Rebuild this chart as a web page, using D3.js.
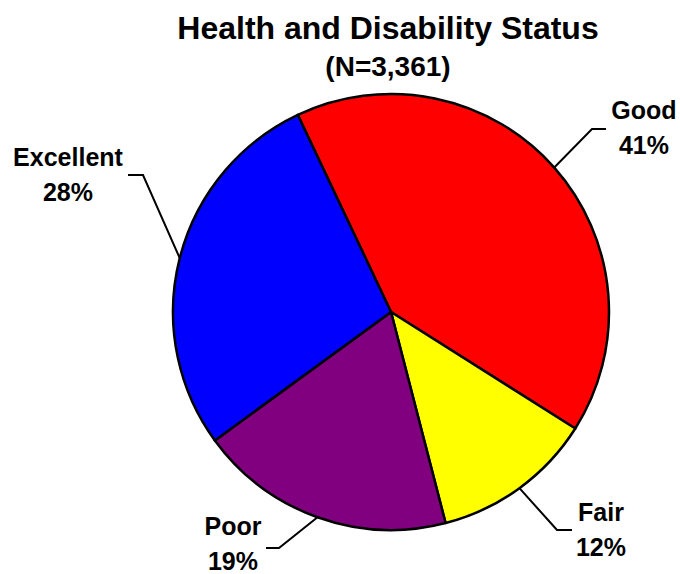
<!DOCTYPE html>
<html>
<head>
<meta charset="utf-8">
<script src="https://cdn.jsdelivr.net/npm/d3@7"></script>
<style>
  body { margin: 0; background: #fff; }
  text { font-family: "Liberation Sans", Arial, sans-serif; font-weight: bold; fill: #000; }
</style>
</head>
<body>
<div class="chart"></div>
<script>
// chart data
var categories = ["Good", "Fair", "Poor", "Excellent"];
var percents = [41, 12, 19, 28];
var colors = ["#ff0000", "#ffff00", "#800080", "#0000ff"];
var title = "Health and Disability Status";
var subtitle = "(N=3,361)";

var svgWidth = 680;
var svgHeight = 574;

// pie geometry
var cx = 391, cy = 312, radius = 218;
var startDeg = -25.3;

// where each leader line bends and where its label sits
var labelLayout = {
  "Good":      { elbow: [592, 129], end: [606, 129], tx: 644, ty: 119 },
  "Fair":      { elbow: [557, 530], end: [572, 530], tx: 601, ty: 521 },
  "Poor":      { elbow: [279, 548], end: [266, 548], tx: 233, ty: 535 },
  "Excellent": { elbow: [143, 175], end: [128, 175], tx: 68,  ty: 166 }
};

var svg = d3.select(".chart")
  .append("svg")
  .attr("width", svgWidth)
  .attr("height", svgHeight);

// title
svg.append("text")
  .attr("x", 388)
  .attr("y", 39)
  .attr("text-anchor", "middle")
  .style("font-size", "32px")
  .text(title);

svg.append("text")
  .attr("x", 388)
  .attr("y", 76)
  .attr("text-anchor", "middle")
  .style("font-size", "28px")
  .text(subtitle);

var data = categories.map(function(c, i) {
  return { name: c, value: percents[i], color: colors[i] };
});

var start = startDeg * Math.PI / 180;
var pie = d3.pie()
  .sort(null)
  .value(d => d.value)
  .startAngle(start)
  .endAngle(start + 2 * Math.PI);

var arc = d3.arc()
  .innerRadius(0)
  .outerRadius(radius);

var pieGroup = svg.append("g")
  .attr("transform", `translate(${cx}, ${cy})`);

var arcs = pie(data);

pieGroup.selectAll("path")
  .data(arcs)
  .enter()
  .append("path")
  .attr("d", arc)
  .attr("fill", d => d.data.color)
  .attr("stroke", "#000")
  .attr("stroke-width", 2.5)
  .attr("stroke-linejoin", "round");

// leader lines and labels
arcs.forEach(function(d) {
  var mid = (d.startAngle + d.endAngle) / 2;
  var x0 = cx + radius * Math.sin(mid);
  var y0 = cy - radius * Math.cos(mid);
  var lay = labelLayout[d.data.name];

  svg.append("polyline")
    .attr("points", [[x0, y0], lay.elbow, lay.end].map(p => p.join(",")).join(" "))
    .attr("fill", "none")
    .attr("stroke", "#000")
    .attr("stroke-width", 2);

  svg.append("text")
    .attr("x", lay.tx)
    .attr("y", lay.ty)
    .attr("text-anchor", "middle")
    .style("font-size", "25px")
    .text(d.data.name);

  svg.append("text")
    .attr("x", lay.tx)
    .attr("y", lay.ty + 35)
    .attr("text-anchor", "middle")
    .style("font-size", "25px")
    .text(d.data.value + "%");
});
</script>
</body>
</html>
